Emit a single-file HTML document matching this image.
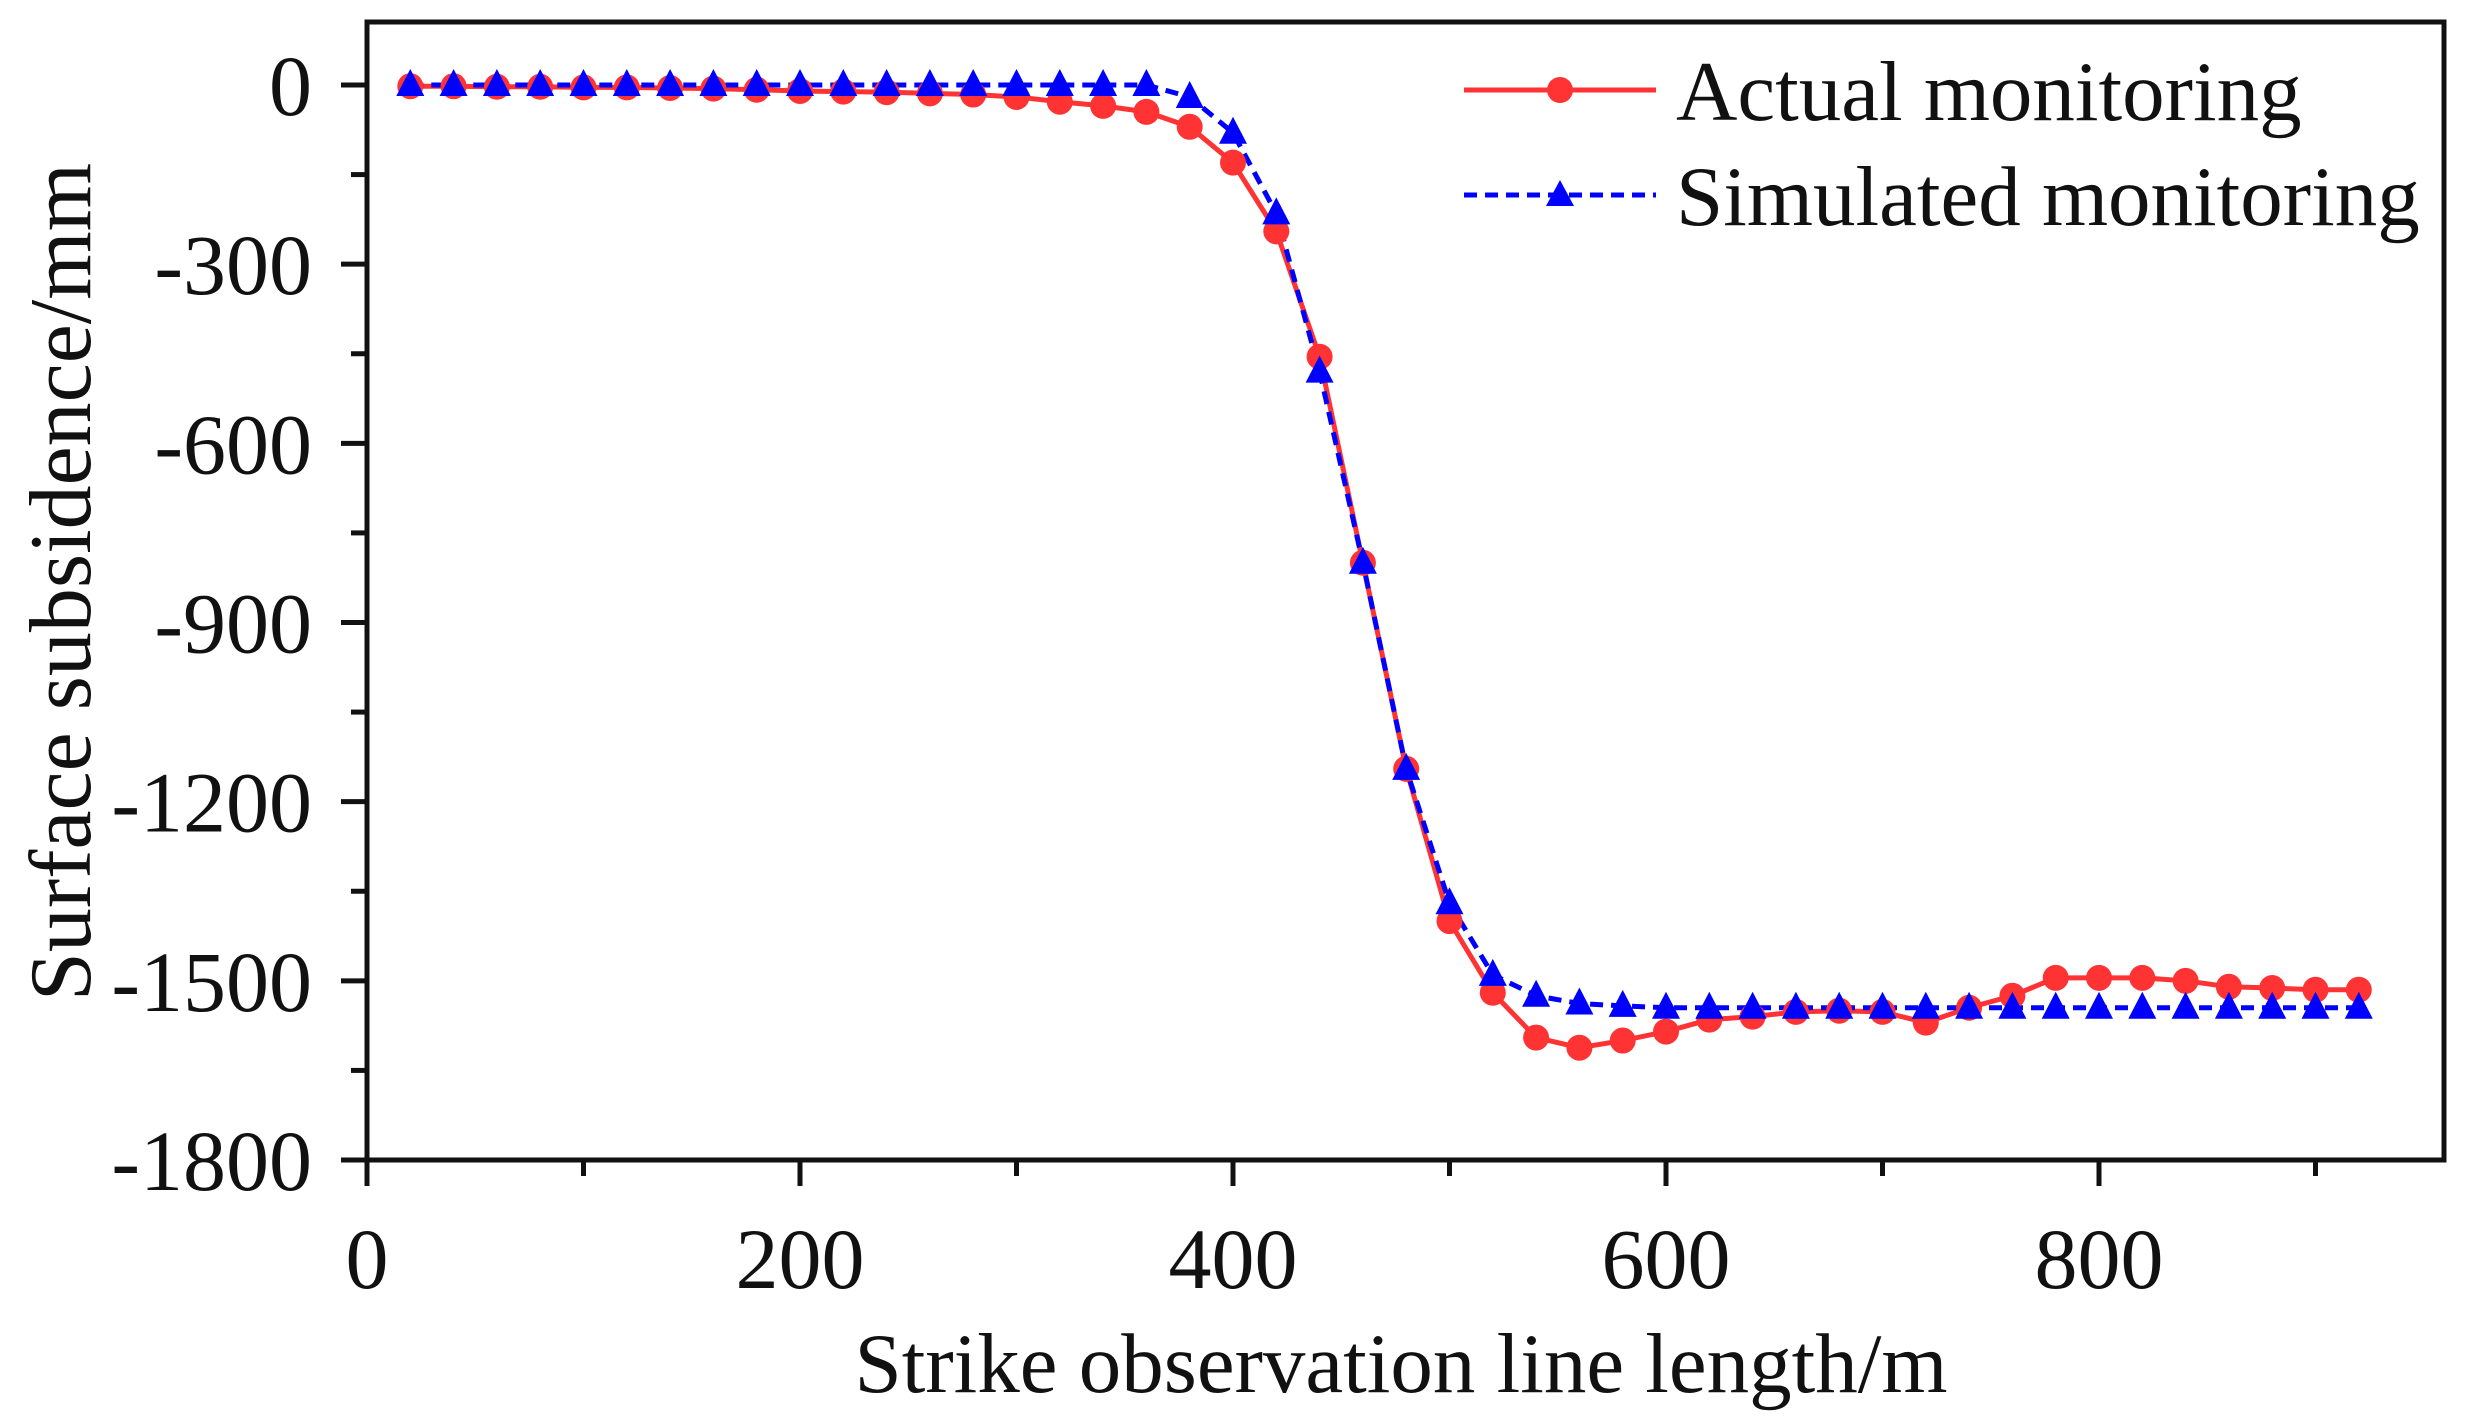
<!DOCTYPE html>
<html><head><meta charset="utf-8"><style>
html,body{margin:0;padding:0;background:#fff;}
svg{display:block;font-family:"Liberation Serif",serif;}
</style></head><body>
<svg id="chart" width="2468" height="1422" viewBox="0 0 2468 1422" xmlns="http://www.w3.org/2000/svg">
<g id="axes"></g>
<g id="series"></g>
<g id="legend">
  <line x1="1464" y1="90" x2="1656" y2="90" stroke="#ff3333" stroke-width="5"/>
  <circle cx="1560" cy="90" r="13" fill="#ff3333"/>
  <text x="1676" y="120" font-size="85" fill="#111">Actual monitoring</text>
  <line x1="1464" y1="195" x2="1656" y2="195" stroke="#0000ff" stroke-width="5" stroke-dasharray="13,8"/>
  <polygon points="1560,180 1574,206 1546,206" fill="#0000ff"/>
  <text x="1676" y="225" font-size="85" fill="#111">Simulated monitoring</text>
</g>
</svg>
<script>
const xValues = [20,40,60,80,100,120,140,160,180,200,220,240,260,280,300,320,340,360,380,400,420,440,460,480,500,520,540,560,580,600,620,640,660,680,700,720,740,760,780,800,820,840,860,880,900,920];
const actualValues = [-2,-2,-3,-3,-4,-4,-5,-6,-8,-10,-11,-12,-14,-16,-20,-28,-35,-45,-70,-130,-245,-455,-800,-1145,-1400,-1520,-1595,-1612,-1600,-1585,-1565,-1560,-1552,-1550,-1552,-1570,-1545,-1525,-1495,-1495,-1495,-1500,-1510,-1512,-1515,-1515];
const simulatedValues = [0,0,0,0,0,0,0,0,0,0,0,0,0,0,0,0,0,0,-20,-80,-215,-480,-800,-1145,-1370,-1490,-1525,-1538,-1542,-1545,-1545,-1545,-1545,-1545,-1545,-1545,-1545,-1545,-1545,-1545,-1545,-1545,-1545,-1545,-1545,-1545];
const xTicks = [0,200,400,600,800];
const yTicks = [0,-300,-600,-900,-1200,-1500,-1800];

const L=367,R=2444,T=22,B=1160;
const xs = v => L + (v-0)*(433/200);
const ys = v => 85 + (-v)*((B-85)/1800);
const NS="http://www.w3.org/2000/svg";
function mk(tag, attrs, parent){const e=document.createElementNS(NS,tag);for(const k in attrs)e.setAttribute(k,attrs[k]);parent.appendChild(e);return e;}
const axes=document.getElementById('axes'), series=document.getElementById('series');

let fr=mk('rect',{x:L,y:T,width:R-L,height:B-T,fill:'none',stroke:'#111','stroke-width':5},axes);



for(let v=0; v<=900; v+=100){
  const major = v%200===0;
  let t=mk('line',{x1:xs(v),y1:B,x2:xs(v),y2:B+(major?26:16),stroke:'#111','stroke-width':5},axes);
  
  
}
xTicks.forEach(v=>{
  let t=mk('text',{x:xs(v),y:1288,'font-size':86,'text-anchor':'middle',fill:'#111'},axes);
  t.textContent=v;
  
  
});
for(let v=0; v>=-1800; v-=150){
  const major = v%300===0;
  let t=mk('line',{x1:L,y1:ys(v),x2:L-(major?26:16),y2:ys(v),stroke:'#111','stroke-width':5},axes);
  
  
}
yTicks.forEach(v=>{
  let t=mk('text',{x:312,y:ys(v)+30,'font-size':86,'text-anchor':'end',fill:'#111'},axes);
  t.textContent=v;
  
  
});
let xt=mk('text',{x:1401,y:1392,'font-size':85,'text-anchor':'middle',fill:'#111'},axes);
xt.textContent='Strike observation line length/m';


let yt=mk('text',{x:0,y:0,'font-size':88,'text-anchor':'middle',fill:'#111',transform:'translate(90,582) rotate(-90)'},axes);
yt.textContent='Surface subsidence/mm';



let pa=xValues.map((x,i)=>xs(x)+','+ys(actualValues[i])).join(' ');
let la=mk('polyline',{points:pa,fill:'none',stroke:'#ff3333','stroke-width':5},series);


let ps=xValues.map((x,i)=>xs(x)+','+ys(simulatedValues[i])).join(' ');
let ls=mk('polyline',{points:ps,fill:'none',stroke:'#0000ff','stroke-width':5,'stroke-dasharray':'13,8'},series);


xValues.forEach((x,i)=>{
  let c=mk('circle',{cx:xs(x),cy:ys(actualValues[i]),r:13,fill:'#ff3333'},series);
  
  
});
xValues.forEach((x,i)=>{
  const cx=xs(x), cy=ys(simulatedValues[i]);
  let p=mk('polygon',{points:`${cx},${cy-16} ${cx+14},${cy+11} ${cx-14},${cy+11}`,fill:'#0000ff'},series);
  
  
});
</script>
</body></html>
